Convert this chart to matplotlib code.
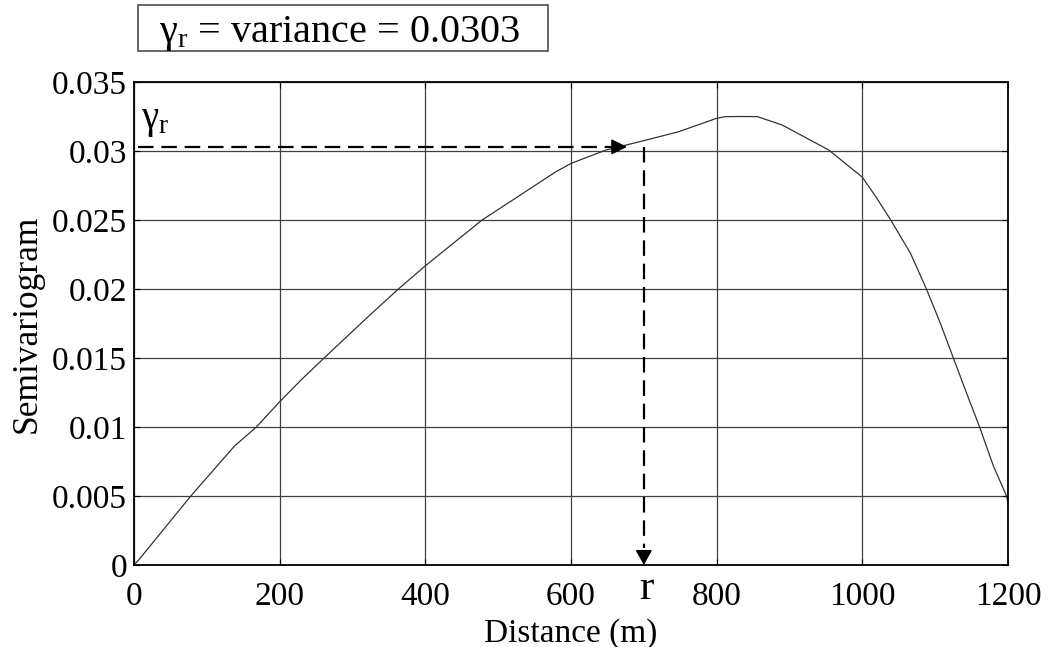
import matplotlib
matplotlib.use('Agg')
import matplotlib.pyplot as plt
from matplotlib.patches import Rectangle

plt.rcParams['font.family'] = ['Liberation Serif', 'DejaVu Serif']
plt.rcParams['mathtext.fontset'] = 'custom'
plt.rcParams['mathtext.rm'] = 'Liberation Serif'
plt.rcParams['mathtext.it'] = 'Liberation Serif:italic'

# semivariogram read along the lag distance
distance = [0, 7, 78, 138, 168, 200, 230, 261, 322, 363, 400, 478, 529, 542, 579,
            600, 648, 700, 748, 800, 812, 834, 856, 890, 954, 1000, 1020, 1039,
            1066, 1088, 1107, 1125, 1143, 1161, 1180, 1198, 1200]
semivar = [0.0, 0.0004, 0.005, 0.00862, 0.01, 0.01183, 0.01344, 0.015, 0.01802,
           0.02, 0.02168, 0.025, 0.02676, 0.02721, 0.02849, 0.0291, 0.03007,
           0.03075, 0.0314, 0.03237, 0.03249, 0.0325, 0.03249, 0.03188, 0.03007,
           0.0281, 0.02657, 0.025, 0.0226, 0.02, 0.01753, 0.015, 0.01247, 0.01,
           0.00717, 0.005, 0.0045]

gamma_r = 0.0303      # sill = variance
r_range = 700         # range where the sill is reached
arrow_tip = 677

xticks = [0, 200, 400, 600, 800, 1000, 1200]
yticks = [0, 0.005, 0.01, 0.015, 0.02, 0.025, 0.03, 0.035]
ytick_labels = ['0', '0.005', '0.01', '0.015', '0.02', '0.025', '0.03', '0.035']

fig = plt.figure(figsize=(10.49, 6.47), dpi=100)
ax = fig.add_axes([134 / 1049, 1 - 565 / 647, 874 / 1049, 483 / 647])

ax.plot(distance, semivar, color='0.2', lw=0.9)

# horizontal dashed line to the sill with arrow head
ax.plot([5, arrow_tip - 8], [gamma_r, gamma_r], color='k', lw=1.6, ls=(0, (7, 3.5)))
ax.annotate('', xy=(arrow_tip, gamma_r), xytext=(arrow_tip - 12, gamma_r),
            arrowprops=dict(arrowstyle='-|>,head_length=9.5,head_width=4.7',
                            mutation_scale=1, color='k', lw=1.2,
                            shrinkA=0, shrinkB=0))
# vertical dashed line down to the range
ax.plot([r_range, r_range], [gamma_r, 0.0012], color='k', lw=1.6, ls=(0, (7, 3.5)))
ax.annotate('', xy=(r_range, 0), xytext=(r_range, 0.001),
            arrowprops=dict(arrowstyle='-|>,head_length=9,head_width=5',
                            mutation_scale=1, color='k', lw=1.2,
                            shrinkA=0, shrinkB=0))

ax.text(10, 0.0317, r'γ$_\mathrm{r}$', fontsize=28, ha='left', va='baseline')
ax.text(r_range + 3, -0.0704, 'r', fontsize=31, ha='center', va='baseline',
        transform=ax.get_xaxis_transform())

ax.set_xlim(0, 1200)
ax.set_ylim(0, 0.035)
ax.set_xticks(xticks)
ax.set_xticklabels([str(t) for t in xticks])
ax.set_yticks(yticks)
ax.set_yticklabels(ytick_labels)
ax.tick_params(direction='in', length=4, width=0.8, top=True, right=True,
               labelsize=24, colors='k')
ax.tick_params(axis='x', pad=12)
ax.tick_params(axis='y', pad=5)
ax.grid(True, color='0.25', lw=0.9)
for s in ax.spines.values():
    s.set_linewidth(1.3)

ax.set_xlabel('Distance (m)', fontsize=24, labelpad=4)
ax.set_ylabel('Semivariogram', fontsize=25.5, labelpad=6)

# boxed annotation above the axes
fig.patches.append(Rectangle((138 / 1049, 1 - 51 / 647), 410 / 1049, 46 / 647,
                             transform=fig.transFigure, fill=False,
                             edgecolor='0.3', lw=1.2))
fig.text(340 / 1049, 1 - 42 / 647, r'γ$_\mathrm{r}$ = variance = 0.0303',
         fontsize=29, ha='center', va='baseline')

fig.savefig('out.png', dpi=100)
